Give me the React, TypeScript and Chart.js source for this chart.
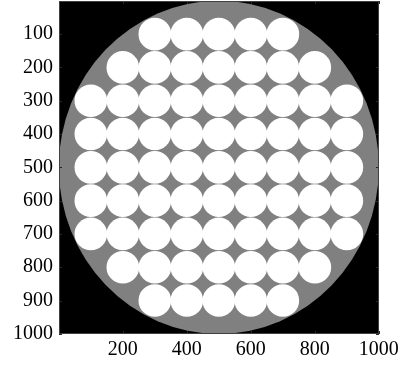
import { useEffect, useRef } from "react";
import { Chart, registerables } from "chart.js";

Chart.register(...registerables);

// Tick labels
const X_TICKS = [200, 400, 600, 800, 1000];
const Y_TICKS = [100, 200, 300, 400, 500, 600, 700, 800, 900, 1000];
const AXIS_MIN = 0.5;
const AXIS_MAX = 1000.5;

// Gray disc (image pixel units)
const DISC_CENTER_X = 500;
const DISC_CENTER_Y = 500;
const DISC_RADIUS = 500;

// White holes: radius and centers per row
const HOLE_RADIUS = 50;
const ROW_Y = [100, 200, 300, 400, 500, 600, 700, 800, 900];
const ROW_X = [
  [300, 400, 500, 600, 700],
  [200, 300, 400, 500, 600, 700, 800],
  [100, 200, 300, 400, 500, 600, 700, 800, 900],
  [100, 200, 300, 400, 500, 600, 700, 800, 900],
  [100, 200, 300, 400, 500, 600, 700, 800, 900],
  [100, 200, 300, 400, 500, 600, 700, 800, 900],
  [100, 200, 300, 400, 500, 600, 700, 800, 900],
  [200, 300, 400, 500, 600, 700, 800],
  [300, 400, 500, 600, 700],
];

const BG = "#000000";
const GRAY = "#808080";
const HOLE = "#ffffff";
const FONT = { family: "'Liberation Serif', 'DejaVu Serif', serif", size: 20 };

const imagePlugin = {
  id: "imageLayer",
  beforeDatasetsDraw(chart: any) {
    const { ctx, chartArea: a, scales } = chart;
    const x = scales.x;
    const y = scales.y;
    ctx.save();
    ctx.beginPath();
    ctx.rect(a.left, a.top, a.right - a.left, a.bottom - a.top);
    ctx.clip();
    ctx.fillStyle = BG;
    ctx.fillRect(a.left, a.top, a.right - a.left, a.bottom - a.top);
    const cx = x.getPixelForValue(DISC_CENTER_X);
    const cy = y.getPixelForValue(DISC_CENTER_Y);
    const rx = Math.abs(x.getPixelForValue(DISC_CENTER_X + DISC_RADIUS) - cx);
    const ry = Math.abs(y.getPixelForValue(DISC_CENTER_Y + DISC_RADIUS) - cy);
    ctx.fillStyle = GRAY;
    ctx.beginPath();
    ctx.ellipse(cx, cy, rx, ry, 0, 0, Math.PI * 2);
    ctx.fill();
    ctx.restore();
  },
  afterDraw(chart: any) {
    const { ctx, chartArea: a, scales } = chart;
    const x = scales.x;
    const y = scales.y;
    ctx.save();
    ctx.strokeStyle = "#262626";
    ctx.lineWidth = 1;
    const len = 3;
    ctx.beginPath();
    X_TICKS.forEach((v) => {
      const px = Math.round(x.getPixelForValue(v)) + 0.5;
      ctx.moveTo(px, a.bottom);
      ctx.lineTo(px, a.bottom - len);
      ctx.moveTo(px, a.top);
      ctx.lineTo(px, a.top + len);
    });
    Y_TICKS.forEach((v) => {
      const py = Math.round(y.getPixelForValue(v)) + 0.5;
      ctx.moveTo(a.left, py);
      ctx.lineTo(a.left + len, py);
      ctx.moveTo(a.right, py);
      ctx.lineTo(a.right - len, py);
    });
    ctx.stroke();
    ctx.strokeStyle = "#404040";
    ctx.strokeRect(a.left + 0.5, a.top + 0.5, a.right - a.left - 1, a.bottom - a.top - 1);
    ctx.restore();
  },
};

const zeroPad = (s: any) => {
  s.paddingLeft = 0;
  s.paddingRight = 0;
  s.paddingTop = 0;
  s.paddingBottom = 0;
};

export default function App() {
  const ref = useRef<HTMLCanvasElement | null>(null);

  useEffect(() => {
    if (!ref.current) return;
    const points = ROW_Y.flatMap((yv, i) => ROW_X[i].map((xv) => ({ x: xv, y: yv })));
    const holeRadius = (c: any) => {
      const s = c.chart.scales;
      if (!s || !s.x || !s.y) return 16;
      const rx = Math.abs(s.x.getPixelForValue(HOLE_RADIUS) - s.x.getPixelForValue(0));
      const ry = Math.abs(s.y.getPixelForValue(HOLE_RADIUS) - s.y.getPixelForValue(0));
      return (rx + ry) / 2;
    };
    const chart = new Chart(ref.current, {
      type: "scatter",
      data: {
        datasets: [
          {
            data: points,
            backgroundColor: HOLE,
            borderWidth: 0,
            pointRadius: holeRadius,
            pointHoverRadius: holeRadius,
            pointBorderWidth: 0,
          } as any,
        ],
      },
      options: {
        animation: false,
        responsive: true,
        maintainAspectRatio: false,
        events: [],
        layout: { padding: { top: 1, right: 38, left: 0, bottom: 0 } },
        plugins: { legend: { display: false }, tooltip: { enabled: false } },
        scales: {
          x: {
            type: "linear",
            min: AXIS_MIN,
            max: AXIS_MAX,
            grid: { display: false, drawTicks: false },
            border: { display: false },
            ticks: {
              font: FONT,
              color: "#000",
              padding: 4,
              maxRotation: 0,
              callback: (v: any) => String(v),
            },
            afterBuildTicks: (s: any) => {
              s.ticks = X_TICKS.map((v) => ({ value: v }));
            },
            afterFit: (s: any) => {
              s.height = 32;
              zeroPad(s);
            },
          },
          y: {
            type: "linear",
            reverse: true,
            min: AXIS_MIN,
            max: AXIS_MAX,
            grid: { display: false, drawTicks: false },
            border: { display: false },
            ticks: {
              font: FONT,
              color: "#000",
              padding: 6,
              callback: (v: any) => String(v),
            },
            afterBuildTicks: (s: any) => {
              s.ticks = Y_TICKS.map((v) => ({ value: v }));
            },
            afterFit: (s: any) => {
              s.width = 59;
              zeroPad(s);
            },
          },
        },
      },
      plugins: [imagePlugin],
    });
    return () => chart.destroy();
  }, []);

  return (
    <div style={{ position: "fixed", left: 0, top: 0, width: 417, height: 366, background: "#fff" }}>
      <canvas ref={ref} />
    </div>
  );
}
